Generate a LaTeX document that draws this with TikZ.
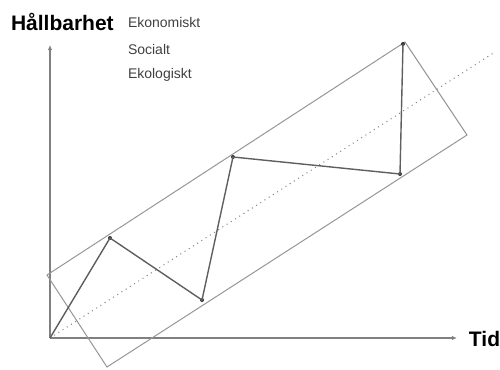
\documentclass[tikz,border=0pt]{standalone}
\usepackage{fontspec}
\setmainfont{Liberation Sans}
\usetikzlibrary{positioning,arrows.meta,calc}
\definecolor{AxisGray}{RGB}{128,128,128}
\definecolor{BandGray}{RGB}{150,150,150}
\definecolor{PathGray}{RGB}{95,95,95}

\begin{document}
\begin{tikzpicture}[x=0.5pt, y=-0.5pt,
    every node/.style={inner sep=0pt, outer sep=0pt},
    axis/.style={AxisGray, line width=0.6pt, -{Latex[length=2.5pt, width=2.2pt]}},
    band/.style={BandGray, line width=0.5pt},
    trend/.style={AxisGray, line width=0.5pt, dotted},
    zigzag/.style={PathGray, line width=0.7pt},
    vertex/.style={circle, fill=black!80, minimum size=2pt},
    title/.style={font=\fontsize{10.5}{12}\selectfont\bfseries, anchor=west},
    aspect/.style={font=\fontsize{7}{8}\selectfont, text=black!75, anchor=west}]
  \useasboundingbox (0,0) rectangle (500,370);

  % axes
  \coordinate (origin) at (50,338);
  \coordinate (ytop) at (50,45);
  \coordinate (xend) at (457,338);
  \draw[axis] (origin) -- (ytop);
  \draw[axis] (origin) -- (xend);
  \node[title] (ylabel) at (11,22) {Hållbarhet};
  \node[title] (xlabel) at (469,339) {Tid};
  \node[aspect] (eko) at (128,22) {Ekonomiskt};
  \node[aspect] (soc) at (128,49) {Socialt};
  \node[aspect] (ekol) at (128,75) {Ekologiskt};

  % band around the trend
  \coordinate (bl) at (47,275);
  \coordinate (bb) at (107,367);
  \coordinate (br) at (467,135);
  \coordinate (bt) at (405,42);
  \draw[band] (bl) -- (bt) -- (br) -- (bb) -- cycle;
  \coordinate (tend) at (495,52);
  \draw[trend] (origin) -- (tend);

  % development path
  \node[vertex] (p1) at (110,238) {};
  \node[vertex] (p2) at (202,300) {};
  \node[vertex] (p3) at (233,157) {};
  \node[vertex] (p4) at (400,174) {};
  \node[vertex] (p5) at (403,44) {};
  \draw[zigzag] (origin) -- (p1.center) -- (p2.center) -- (p3.center)
    -- (p4.center) -- (p5.center);
\end{tikzpicture}
\end{document}
